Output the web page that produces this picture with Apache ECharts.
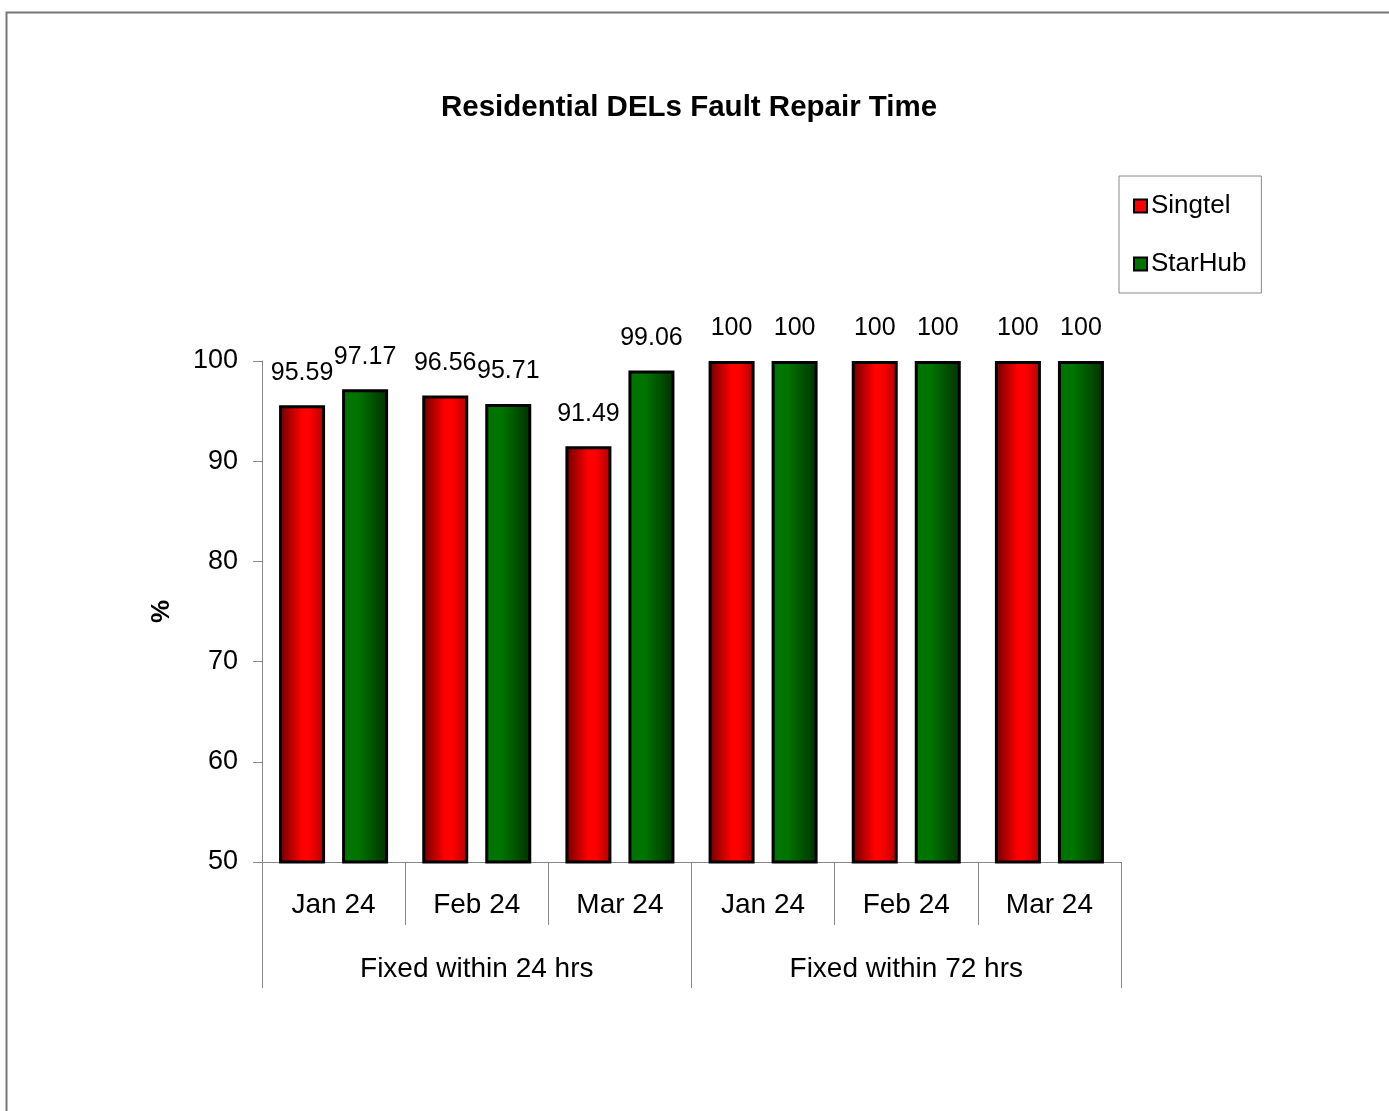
<!DOCTYPE html>
<html>
<head>
<meta charset="utf-8">
<script src="https://cdn.jsdelivr.net/npm/echarts@6/dist/echarts.min.js"></script>
<style>
  html, body { margin: 0; padding: 0; background: #fff; }
  #repair-chart { width: 1389px; height: 1111px; }
</style>
</head>
<body>
<div id="repair-chart"></div>
<script>
var months = ['Jan 24', 'Feb 24', 'Mar 24', 'Jan 24', 'Feb 24', 'Mar 24'];
var groups = ['Fixed within 24 hrs', 'Fixed within 72 hrs'];
var singtel = [95.59, 96.56, 91.49, 100, 100, 100];
var starhub = [97.17, 95.71, 99.06, 100, 100, 100];

function draw_repair_chart() {
  var repair_chart = echarts.init(document.getElementById('repair-chart'));
  var font = 'Liberation Sans, Arial, sans-serif';

  var red_fill = new echarts.graphic.LinearGradient(0, 0, 1, 0, [
    { offset: 0, color: '#6a0000' },
    { offset: 0.5, color: '#ff0000' },
    { offset: 0.65, color: '#ff0000' },
    { offset: 1, color: '#b00000' }
  ]);
  var green_fill = new echarts.graphic.LinearGradient(0, 0, 1, 0, [
    { offset: 0, color: '#007400' },
    { offset: 0.35, color: '#007400' },
    { offset: 1, color: '#003000' }
  ]);

  var label = {
    show: true,
    position: 'top',
    distance: 20,
    color: '#000',
    fontFamily: font,
    fontSize: 25
  };

  var option = {
    backgroundColor: '#fff',
    graphic: [{
      type: 'rect',
      left: 4,
      top: 10,
      shape: { width: 1500, height: 1300 },
      style: { fill: 'none', stroke: '#777', lineWidth: 2 }
    }],
    title: {
      text: 'Residential DELs Fault Repair Time',
      left: 436,
      top: 88,
      textStyle: { fontFamily: font, fontSize: 29.5, fontWeight: 'bold', color: '#000' }
    },
    legend: {
      orient: 'vertical',
      left: 1119,
      top: 176,
      padding: [17, 15, 16, 14],
      itemGap: 32,
      itemWidth: 13,
      itemHeight: 13,
      borderColor: '#888',
      borderWidth: 1,
      textStyle: { fontFamily: font, fontSize: 26, color: '#000', padding: [0, 0, 0, -1] },
      data: [
        { name: 'Singtel', icon: 'rect', itemStyle: { color: '#ff0000', borderColor: '#000', borderWidth: 2 } },
        { name: 'StarHub', icon: 'rect', itemStyle: { color: '#007400', borderColor: '#000', borderWidth: 2 } }
      ]
    },
    grid: {
      left: 262,
      right: 268,
      top: 361,
      bottom: 249
    },
    xAxis: [{
      type: 'category',
      data: months,
      position: 'bottom',
      axisLine: { lineStyle: { color: '#888', width: 1 } },
      axisTick: { show: true, interval: 0, length: 63, lineStyle: { color: '#888' } },
      axisLabel: { interval: 0, margin: 29, color: '#000', fontFamily: font, fontSize: 28 }
    }, {
      type: 'category',
      data: groups,
      position: 'bottom',
      axisLine: { show: false },
      axisTick: { show: true, interval: 0, length: 126, lineStyle: { color: '#888' } },
      axisLabel: { interval: 0, margin: 93, color: '#000', fontFamily: font, fontSize: 28 }
    }],
    yAxis: {
      type: 'value',
      min: 50,
      max: 100,
      interval: 10,
      name: '%',
      nameLocation: 'middle',
      nameGap: 87,
      nameRotate: 90,
      nameTextStyle: { fontFamily: font, fontSize: 26, fontWeight: 'bold', color: '#000' },
      splitLine: { show: false },
      axisLine: { show: true, lineStyle: { color: '#888', width: 1 } },
      axisTick: { show: true, length: 9, lineStyle: { color: '#888' } },
      axisLabel: { margin: 24, color: '#000', fontFamily: font, fontSize: 27 }
    },
    series: [{
      name: 'Singtel',
      type: 'bar',
      xAxisIndex: 0,
      data: singtel,
      barWidth: 46,
      barGap: '37%',
      itemStyle: { color: red_fill, borderColor: '#000', borderWidth: 3 },
      label: label
    }, {
      name: 'StarHub',
      type: 'bar',
      xAxisIndex: 0,
      data: starhub,
      barWidth: 46,
      barGap: '37%',
      itemStyle: { color: green_fill, borderColor: '#000', borderWidth: 3 },
      label: label
    }]
  };

  repair_chart.setOption(option);
  window.addEventListener('resize', function () {
    repair_chart.resize();
  });
}

draw_repair_chart();
</script>
</body>
</html>
